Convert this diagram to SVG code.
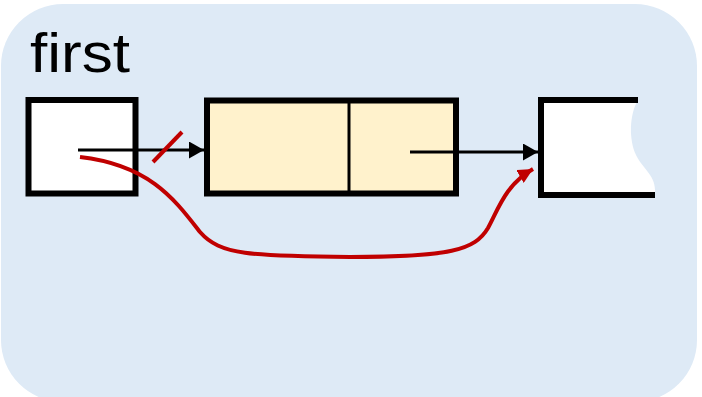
<svg xmlns="http://www.w3.org/2000/svg" width="702" height="397" viewBox="0 0 702 397">
<style>
.box{stroke:#000;stroke-width:6}
.blk{stroke:#000;stroke-width:3;fill:none}
.red{stroke:#C00000;stroke-width:4;fill:none}
</style>
<defs>
<marker id="ab" viewBox="0 0 10 10" refX="10" refY="5" markerWidth="15" markerHeight="17" markerUnits="userSpaceOnUse" orient="auto" preserveAspectRatio="none"><path d="M0,0 L10,5 L0,10 Z" fill="#000"/></marker>
<marker id="ar" viewBox="0 0 10 10" refX="10" refY="5" markerWidth="15" markerHeight="15" markerUnits="userSpaceOnUse" orient="auto" preserveAspectRatio="none"><path d="M0,0 L10,5 L0,10 Z" fill="#C00000"/></marker>
</defs>
<rect x="1" y="4" width="696" height="398" rx="62" fill="#DEEAF6"/>
<text x="30" y="72" font-family="Liberation Sans, sans-serif" font-size="55" textLength="100" lengthAdjust="spacingAndGlyphs" fill="#000">first</text>
<g id="first">
<rect class="box" x="28.5" y="100" width="107" height="93.5" fill="#fff"/>
</g>
<g id="node1">
<rect class="box" x="207" y="100.5" width="249" height="93" fill="#FFF2CC"/>
<line x1="349" y1="100.5" x2="349" y2="193.5" stroke="#000" stroke-width="3"/>
</g>
<g id="node2">
<path d="M638,100 C629,115 629,140 636,155 C642,168 655,175 655,190 L655,198 L541,198 L541,100 Z" fill="#fff"/>
<path d="M638,100 L541,100 L541,195 L655,195" fill="none" stroke="#000" stroke-width="6"/>
</g>
<g id="connectors">
<line class="blk" x1="78" y1="150" x2="204" y2="150" marker-end="url(#ab)"/>
<line class="blk" x1="410" y1="152" x2="538" y2="152" marker-end="url(#ab)"/>
<line class="red" x1="153" y1="162" x2="182" y2="132"/>
<path class="red" d="M80,157 C150,165 175,200 200,232 C220,255 250,256 350,257 C450,257 475,250 488,228 C498,210 505,185 533,169" marker-end="url(#ar)"/>
</g>
</svg>
